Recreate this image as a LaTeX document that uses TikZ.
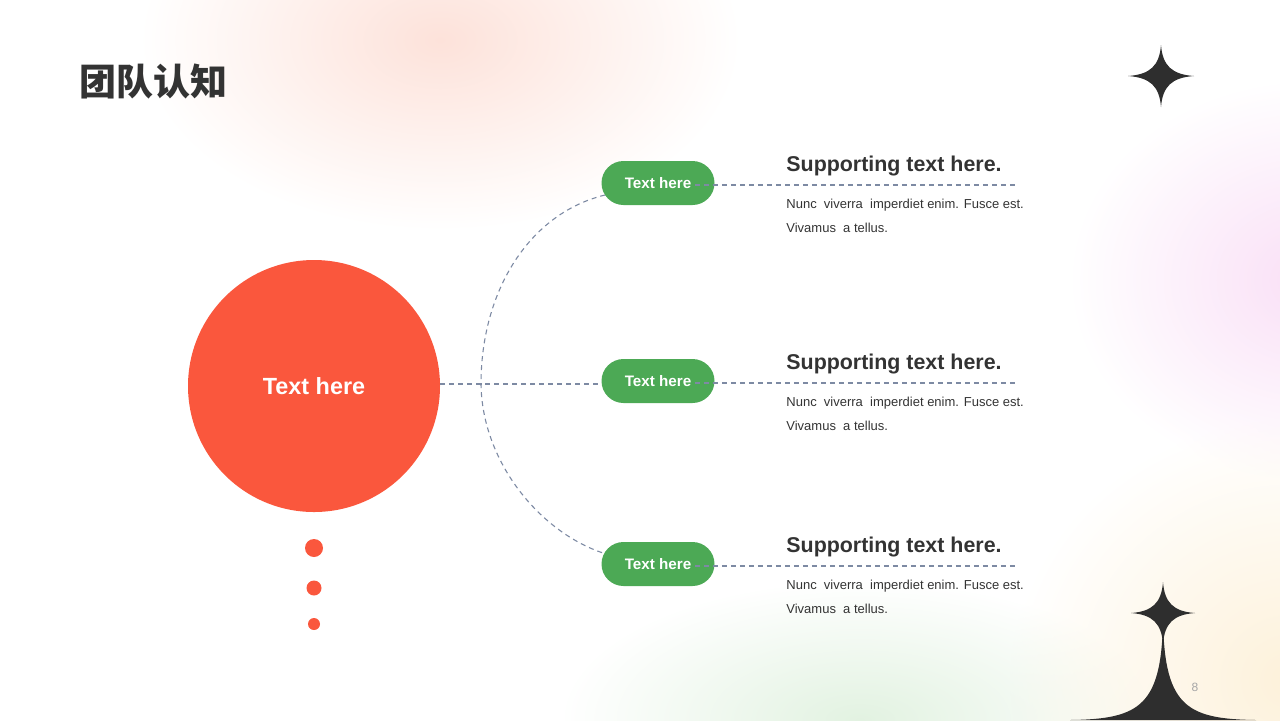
\documentclass[tikz,border=0pt]{standalone}
\usepackage{fontspec}
\setmainfont{Liberation Sans}
\newfontfamily\cjk{Noto Sans CJK SC}
\usetikzlibrary{calc,fadings}
\definecolor{mainorange}{HTML}{FA573D}
\definecolor{pillgreen}{HTML}{4CA955}
\definecolor{linegray}{HTML}{7D8AA3}
\definecolor{darktext}{HTML}{333333}
\definecolor{starcol}{HTML}{2E2E2E}
\definecolor{blobpink}{HTML}{FDE2DA}
\definecolor{blobviolet}{HTML}{F9DFF6}
\definecolor{blobgreen}{HTML}{E2F2E1}
\definecolor{blobyellow}{HTML}{FDF1DA}
\tikzfading[name=blobfade, inner color=transparent!0, outer color=transparent!100]
\pgfdeclarelayer{bg}
\pgfsetlayers{bg,main}
\tikzset{
  pill/.style={fill=pillgreen, rounded corners=11pt, minimum width=56.5pt, minimum height=22pt,
    inner sep=0pt, text=white, font=\bfseries\fontsize{7.6}{9}\selectfont},
  dashline/.style={draw=linegray, line width=0.55pt, dash pattern=on 2.5pt off 2pt},
  headtext/.style={anchor=base west, inner sep=0pt, text=darktext, font=\bfseries\fontsize{10.7}{13}\selectfont},
  bodytext/.style={anchor=base west, inner sep=0pt, text=darktext, font=\fontsize{6.5}{8}\selectfont},
  dot/.style={circle, fill=mainorange, inner sep=0pt},
  sparkle/.pic={\fill[starcol] (0,-1) .. controls (0.05,-0.33) and (0.33,-0.05) .. (1,0)
     .. controls (0.33,0.05) and (0.05,0.33) .. (0,1)
     .. controls (-0.05,0.33) and (-0.33,0.05) .. (-1,0)
     .. controls (-0.33,-0.05) and (-0.05,-0.33) .. cycle;}
}
\begin{document}
\begin{tikzpicture}[x=0.5pt,y=-0.5pt]
\useasboundingbox (0,0) rectangle (1280,720);
% nodes
\node[circle, fill=mainorange, minimum size=126pt, inner sep=0pt, text=white,
  font=\bfseries\fontsize{11.7}{14}\selectfont] (main) at (314,386) {Text here};
\node[dot, minimum size=9pt] (d1) at (314,548) {};
\node[dot, minimum size=7.5pt] (d2) at (314,588) {};
\node[dot, minimum size=6pt] (d3) at (314,624) {};
\node[pill] (p1) at (658,183) {Text here};
\node[pill] (p2) at (658,381) {Text here};
\node[pill] (p3) at (658,564) {Text here};
\coordinate (e1) at (1016,185);
\coordinate (e2) at (1016,383);
\coordinate (e3) at (1016,566);
\coordinate (junction) at (481,384);
% title
\node[anchor=west, inner sep=0pt, text=darktext, font=\cjk\bfseries\fontsize{18.5}{22}\selectfont] (title) at (79,82) {团队认知};
% texts
\foreach \i/\dy in {1/0,2/198,3/381}{
  \node[headtext] (h\i) at (786,171+\dy) {Supporting text here.};
  \node[bodytext] (b\i) at (786,208+\dy) {Nunc\ \ viverra\ \ imperdiet enim. Fusce est.};
  \node[bodytext] (c\i) at (786,232+\dy) {Vivamus\ \ a tellus.};
}
\node[text=gray!70, font=\fontsize{6}{7}\selectfont] (pg) at (1195,687) {8};
% right dashed lines over pills
\draw[dashline] ($(p1.east)+(-20,2)$) -- (e1);
\draw[dashline] ($(p2.east)+(-20,2)$) -- (e2);
\draw[dashline] ($(p3.east)+(-20,2)$) -- (e3);
% stars
\pic[xscale=33, yscale=31] at (1161,76) {sparkle};
\pic[xscale=32, yscale=31] at (1163,613) {sparkle};
\fill[starcol] (1163,612) .. controls (1163,706) and (1185,719) .. (1256,720)
  -- (1070,720) .. controls (1141,719) and (1163,706) .. cycle;
\begin{pgfonlayer}{bg}
  \fill[blobpink, path fading=blobfade] (440,40) ellipse (300 and 190);
  \fill[blobviolet, path fading=blobfade] (1310,280) ellipse (240 and 200);
  \fill[blobgreen, path fading=blobfade] (860,720) ellipse (300 and 140);
  \fill[blobyellow, path fading=blobfade] (1290,680) ellipse (280 and 260);
  \draw[dashline] (main.east |- junction) -- (junction) -- (p2.west |- junction);
  \draw[dashline] ($(p1.west)+(4,12)$) .. controls (530,213) and (481,290) .. (junction)
     .. controls (482,462) and (540,532) .. ($(p3.west)+(2,-11)$);
\end{pgfonlayer}
\end{tikzpicture}
\end{document}
